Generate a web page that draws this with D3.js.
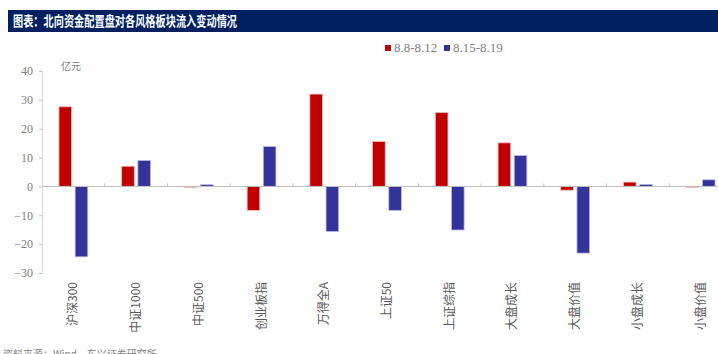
<!DOCTYPE html>
<html>
<head>
<meta charset="utf-8">
<script src="https://cdn.jsdelivr.net/npm/d3@7"></script>
<style>
  body { margin: 0; background: #fff; }
  svg { display: block; }
</style>
</head>
<body>
<div id="chart"></div>
<script>
// data (亿元)
var categories = ["沪深300", "中证1000", "中证500", "创业板指", "万得全A", "上证50", "上证综指", "大盘成长", "大盘价值", "小盘成长", "小盘价值"];
var seriesNames = ["8.8-8.12", "8.15-8.19"];
var week1 = [27.6, 7.0, -0.3, -8.3, 32.0, 15.6, 25.6, 15.1, -1.3, 1.5, -0.3];
var week2 = [-24.4, 9.0, 0.6, 13.8, -15.6, -8.3, -15.1, 10.7, -23.1, 0.7, 2.3];
var yTicks = [-30, -20, -10, 0, 10, 20, 30, 40];
var colors = ["#C00000", "#333399"];
var strokes = ["#f2b8b8", "#b9b9df"];

var W = 718, H = 354;

var svg = d3.select("#chart")
  .append("svg")
    .attr("width", W)
    .attr("height", H);

// title bar
svg.append("rect")
  .attr("x", 8).attr("y", 10)
  .attr("width", W - 8).attr("height", 22)
  .attr("fill", "#002060");
svg.append("text")
  .attr("x", 13).attr("y", 26)
  .attr("fill", "#fff")
  .attr("textLength", 224)
  .attr("lengthAdjust", "spacingAndGlyphs")
  .style("font-family", "'Noto Sans CJK SC', sans-serif")
  .style("font-size", "14px")
  .style("font-weight", "bold")
  .text("图表：北向资金配置盘对各风格板块流入变动情况");

// scales - the plot runs past the right edge of the picture
var x = d3.scaleBand()
  .domain(categories)
  .range([42, 732]);

var inner = d3.scaleBand()
  .domain([0, 1])
  .range([0, x.bandwidth()])
  .paddingInner(0.22)
  .paddingOuter(1.05);

var y = d3.scaleLinear()
  .domain([-30, 40])
  .range([273, 71]);

// y axis
var yAxis = svg.append("g")
  .attr("transform", "translate(42,0)")
  .call(d3.axisLeft(y).tickValues(yTicks).tickSize(3).tickPadding(6));
yAxis.select(".domain").attr("stroke", "#d9d9d9");
yAxis.selectAll("line").attr("stroke", "#bfbfbf");
yAxis.selectAll("text")
  .attr("fill", "#808080")
  .style("font-family", "'Liberation Serif', serif")
  .style("font-size", "12px");

svg.append("text")
  .attr("x", 61).attr("y", 70)
  .attr("fill", "#808080")
  .style("font-family", "'Noto Sans CJK SC', sans-serif")
  .style("font-size", "10px")
  .text("亿元");

// bars
var series = [week1, week2];
series.forEach(function(vals, s) {
  svg.selectAll(".bar" + s)
    .data(vals)
    .enter()
    .append("rect")
      .attr("x", function(d, i) { return x(categories[i]) + inner(s); })
      .attr("y", function(d) { return y(Math.max(0, d)); })
      .attr("width", inner.bandwidth())
      .attr("height", function(d) { return Math.abs(y(d) - y(0)); })
      .attr("fill", colors[s])
      .attr("stroke", strokes[s])
      .attr("stroke-width", 0.8);
});

// x axis at zero
svg.append("line")
  .attr("x1", 42).attr("x2", 732)
  .attr("y1", y(0)).attr("y2", y(0))
  .attr("stroke", "#bfbfbf");
svg.selectAll(".xtick")
  .data(categories.slice(1))
  .enter()
  .append("line")
    .attr("x1", function(d) { return x(d); })
    .attr("x2", function(d) { return x(d); })
    .attr("y1", y(0) - 3)
    .attr("y2", y(0))
    .attr("stroke", "#bfbfbf");

// category labels, rotated
svg.selectAll(".xlab")
  .data(categories)
  .enter()
  .append("text")
    .attr("transform", function(d) {
      return "translate(" + (x(d) + x.bandwidth() / 2 + 4) + ",282)rotate(-90)";
    })
    .attr("text-anchor", "end")
    .attr("fill", "#595959")
    .style("font-family", "'Noto Sans CJK SC', sans-serif")
    .style("font-size", "12px")
    .text(function(d) { return d; });

// legend
var legend = svg.selectAll(".leg")
  .data(seriesNames)
  .enter()
  .append("g")
    .attr("transform", function(d, i) { return "translate(" + (385 + i * 59) + ",50)"; });
legend.append("rect")
  .attr("x", 0).attr("y", -5)
  .attr("width", 6).attr("height", 6)
  .attr("fill", function(d, i) { return colors[i]; });
legend.append("text")
  .attr("x", 9).attr("y", 2)
  .attr("fill", "#808080")
  .style("font-family", "'Liberation Serif', serif")
  .style("font-size", "13px")
  .text(function(d) { return d; });

// source line, cut at the bottom edge as in the reference
svg.append("text")
  .attr("x", 3).attr("y", 358)
  .attr("fill", "#808080")
  .style("font-family", "'Noto Sans CJK SC', sans-serif")
  .style("font-size", "10px")
  .text("资料来源：Wind，东兴证券研究所");
</script>
</body>
</html>
